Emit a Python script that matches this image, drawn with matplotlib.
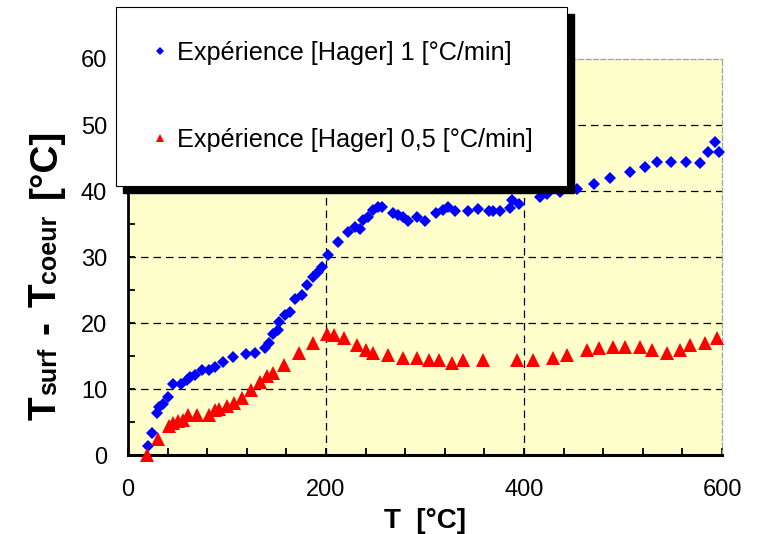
import matplotlib
matplotlib.use('Agg')
import matplotlib.pyplot as plt
from matplotlib.ticker import MultipleLocator
from matplotlib.patches import Rectangle

plt.rcParams['font.family'] = ['Liberation Sans', 'DejaVu Sans']

# Experience [Hager] 1 degC/min
t_1 = [20.5, 24, 29, 31.6, 35, 40.7, 45.8, 54, 59.3, 62.6, 67.7, 74.4, 82.2, 87.9,
       96.3, 106.4, 119.2, 128.3, 138.4, 142.8, 146.8, 151.8, 152.8, 158.6, 163.6,
       168.7, 175.4, 180.5, 186.5, 192.3, 195.6, 202.3, 212.4, 222.5, 229.3, 234.3,
       237.7, 242.8, 247.8, 253, 256.2, 268, 273, 277.4, 283.2, 292.2, 300, 311.1,
       318.5, 323.5, 330.3, 343.1, 353.9, 365, 369, 375.8, 385.9, 387.6, 395.3,
       416.2, 422.9, 436.4, 453.2, 470.4, 487.2, 507.5, 521.8, 534, 548.5, 563.6,
       577.8, 585.5, 592.9, 597.3]
dt_1 = [1.3, 3.3, 6.3, 7.3, 7.8, 8.8, 10.8, 10.8, 11.4, 11.8, 12.1, 12.9, 12.9, 13.3,
        14.1, 14.8, 15.3, 15.5, 16.2, 17.0, 18.4, 19.0, 20.2, 21.2, 21.7,
        23.7, 24.2, 25.8, 27.0, 27.8, 28.5, 30.3, 32.2, 33.8, 34.6, 34.3,
        35.6, 36.1, 37.1, 37.5, 37.5, 36.7, 36.4, 36.0, 35.5, 36.0, 35.5, 36.7,
        37.1, 37.6, 37.0, 37.0, 37.2, 37.0, 36.9, 37.0, 37.4, 38.6, 38.1,
        39.1, 39.6, 39.9, 40.3, 41.1, 41.9, 42.9, 43.7, 44.4, 44.4, 44.4,
        44.3, 45.9, 47.5, 45.9]

# Experience [Hager] 0,5 degC/min
t_05 = [19, 30.6, 41.7, 45.8, 50.8, 55.9, 60.9, 70, 82.2, 87.9, 92.3, 100.3, 107.1,
        114.8, 123.9, 133.3, 140.1, 146.8, 157.6, 173, 187.2, 201.3, 208, 218.2,
        231, 240.4, 247.8, 262.9, 278.1, 292.2, 304.4, 314.5, 327, 338.7, 358.3,
        392.6, 409.4, 429, 443.8, 463.3, 476.1, 490.2, 502, 517.2, 529, 544.1,
        557.6, 567.7, 582.8, 595.3]
dt_05 = [0, 2.5, 4.4, 4.9, 5.2, 5.3, 6.1, 6.1, 6.1, 6.8, 6.9, 7.4, 7.9,
         8.7, 9.8, 11.1, 11.9, 12.5, 13.6, 15.5, 16.9, 18.4, 18.2, 17.7,
         16.7, 15.9, 15.5, 15.2, 14.7, 14.7, 14.4, 14.4, 14.0, 14.4, 14.4,
         14.4, 14.4, 14.7, 15.2, 15.9, 16.2, 16.3, 16.3, 16.3, 15.9, 15.5,
         15.9, 16.7, 17.0, 17.8]

labels = ['Expérience [Hager] 1 [°C/min]', 'Expérience [Hager] 0,5 [°C/min]']
grid_y = [10, 20, 30, 40, 50]
grid_x = [200, 400]

W, H = 761, 534
fig = plt.figure(figsize=(W / 100, H / 100), dpi=100)
ax = fig.add_axes([128 / W, 79 / H, 594 / W, 396 / H])
ax.set_facecolor('#FFFFCC')
ax.set_xlim(0, 600)
ax.set_ylim(0, 60)

for y in grid_y:
    ax.axhline(y, color='k', lw=0.9, ls=(0, (6, 4)), zorder=1)
for x in grid_x:
    ax.axvline(x, color='k', lw=0.9, ls=(0, (6, 4)), zorder=1)

l1, = ax.plot(t_1, dt_1, 'D', color='#0000FF', ms=6.6, mew=0, zorder=3,
              clip_on=False, label=labels[0])
l2, = ax.plot(t_05, dt_05, '^', color='#FF0000', ms=9.5, mew=0, zorder=3,
              clip_on=False, label=labels[1])

# spines
ax.spines['left'].set_linewidth(2.0)
ax.spines['bottom'].set_linewidth(2.2)
for s in ['top', 'right']:
    ax.spines[s].set_color('#A0A0A0')
    ax.spines[s].set_linestyle((0, (4, 2)))
    ax.spines[s].set_linewidth(0.9)

ax.xaxis.set_major_locator(MultipleLocator(200))
ax.xaxis.set_minor_locator(MultipleLocator(40))
ax.yaxis.set_major_locator(MultipleLocator(10))
ax.yaxis.set_minor_locator(MultipleLocator(5))
ax.tick_params(which='both', direction='in', length=5, width=1.3,
               top=False, right=False)
ax.tick_params(axis='x', which='major', labelsize=17, pad=17)
ax.tick_params(axis='y', which='major', labelsize=17, pad=15)

ax.set_xlabel('T  [°C]', fontsize=20, fontweight='bold', labelpad=5)

# legend box with black shadow
leg = fig.legend(handles=[l1, l2], loc='upper left',
                 bbox_to_anchor=(116 / W, 1 - 7 / H), bbox_transform=fig.transFigure,
                 frameon=True, fancybox=False, edgecolor='k', framealpha=1,
                 borderpad=1.35, labelspacing=2.5, handlelength=0.8,
                 handletextpad=0.25, fontsize=18.2, markerscale=0.65, borderaxespad=0)
leg.get_frame().set_linewidth(0.8)
leg.set_zorder(5)

fig.canvas.draw()
renderer = fig.canvas.get_renderer()
bb = leg.get_window_extent(renderer)
fig.add_artist(Rectangle(((bb.x0 + 7) / W, (bb.y0 - 7) / H), bb.width / W, bb.height / H,
                         transform=fig.transFigure, color='k', zorder=4))

# y label built from pieces (big T, smaller "surf"/"coeur")
parts = [('T', 28, 0), ('surf', 18, 1), ('-', 28, 14), ('T', 28, 14),
         ('coeur', 18, 1), ('[°C]', 28, 16)]
ypix = 114
for s, fs, gap in parts:
    ypix += gap
    t = fig.text(56 / W, ypix / H, s, fontsize=fs, fontweight='bold', rotation=90,
                 rotation_mode='anchor', ha='left', va='baseline')
    ypix += t.get_window_extent(renderer).height

fig.savefig('out.png', dpi=100)
